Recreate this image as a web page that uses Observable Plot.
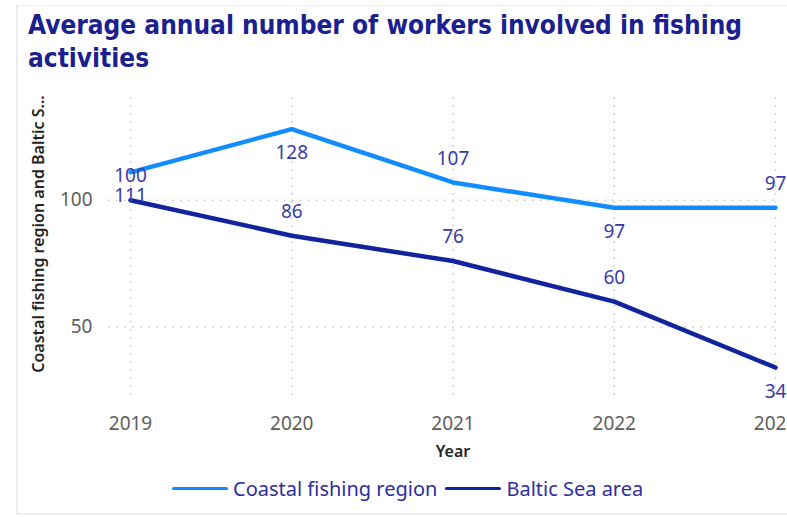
<!DOCTYPE html>
<html><head><meta charset="utf-8">
<script src="https://cdn.jsdelivr.net/npm/d3@7"></script>
<script src="https://cdn.jsdelivr.net/npm/@observablehq/plot@0.6"></script>
<style>
body{margin:0;width:787px;height:517px;overflow:hidden;position:relative;background:#fff;font-family:"Segoe UI","Noto Sans",sans-serif;}
#panel{position:absolute;left:16px;top:5px;width:790px;height:507px;border-left:2px solid #ECECEC;border-top:1px solid #ECECEC;border-bottom:2px solid #ECECEC;}
#title{position:absolute;left:28px;top:9px;font-family:"DejaVu Sans Condensed","DejaVu Sans",sans-serif;font-weight:bold;font-size:26px;line-height:33px;color:#1B1F8F;white-space:nowrap;}
#chart{position:absolute;left:0;top:85px;width:800px;}
#chart svg{max-width:none !important;}
#legend{position:absolute;left:172px;top:475px;display:flex;align-items:center;font-size:20px;color:#2E2E9E;font-family:"Segoe UI","Noto Sans",sans-serif;white-space:nowrap;}
#legend .sw{display:inline-block;width:56px;height:3px;margin-right:5px;border-radius:2px;}
#legend .item{display:flex;align-items:center;margin-right:8px;}
</style></head>
<body>
<div id="panel"></div>
<div id="title">Average annual number of workers involved in fishing<br>activities</div>
<div id="chart"></div>
<div id="legend"></div>
<script>
const years = [2019, 2020, 2021, 2022, 2023];
const seriesNames = ["Coastal fishing region", "Baltic Sea area"];
const coastal = [111, 128, 107, 97, 97];
const baltic = [100, 86, 76, 60, 34];
const yTicks = [50, 100];
const yTitle = "Coastal fishing region and Baltic S...";
const xTitle = "Year";

// label placement (1 = below point, -1 = above point)
const coastalSide = [1, 1, -1, 1, -1];
const balticSide = [-1, -1, -1, -1, 1];
const colors = ["#118DFF", "#12239E"];

const rows = [];
years.forEach((y, i) => {
  rows.push({year: y, value: coastal[i], series: seriesNames[0], side: coastalSide[i]});
  rows.push({year: y, value: baltic[i], series: seriesNames[1], side: balticSide[i]});
});

const labelColor = "#3B3BA9";
const tickColor = "#605E5C";
const gridColor = "#C4C4C4";

const plot = Plot.plot({
  width: 800,
  height: 390,
  marginLeft: 108,
  marginRight: 25,
  marginTop: 12,
  marginBottom: 75,
  style: {fontFamily: '"Segoe UI","Noto Sans",sans-serif', background: "transparent", overflow: "visible", maxWidth: "none"},
  x: {domain: [years[0], years[years.length - 1]], insetLeft: 22},
  y: {domain: [21, 140.5]},
  color: {domain: seriesNames, range: colors},
  marks: [
    Plot.gridX(years, {stroke: gridColor, strokeOpacity: 1, strokeWidth: 1.5, strokeDasharray: "1.5,6.5"}),
    Plot.gridY(yTicks, {stroke: gridColor, strokeOpacity: 1, strokeWidth: 1.5, strokeDasharray: "1.5,6.5"}),
    Plot.axisX(years, {tickSize: 0, tickPadding: 16, fontSize: 19, fill: tickColor, tickFormat: d => String(d), label: null}),
    Plot.axisY(yTicks, {tickSize: 0, tickPadding: 16, fontSize: 19, fill: tickColor, label: null}),
    Plot.text([yTitle], {frameAnchor: "left", textAnchor: "middle", rotate: -90, dx: -70, dy: -15, fontSize: 16, fontWeight: 600, fill: "#252423"}),
    Plot.text([xTitle], {x: [(years[0] + years[years.length - 1]) / 2], frameAnchor: "bottom", dy: 56, fontSize: 16, fontWeight: 600, fill: "#252423"}),
    Plot.line(rows, {x: "year", y: "value", z: "series", stroke: "series", strokeWidth: 4.5, strokeLinejoin: "round", strokeLinecap: "round"}),
    Plot.text(rows.filter(d => d.side > 0), {x: "year", y: "value", text: d => String(d.value), dy: 24, fontSize: 19, fill: labelColor}),
    Plot.text(rows.filter(d => d.side < 0), {x: "year", y: "value", text: d => String(d.value), dy: -24, fontSize: 19, fill: labelColor})
  ]
});
plot.style.maxWidth = "none";
document.getElementById("chart").appendChild(plot);

const legend = document.getElementById("legend");
seriesNames.forEach((name, i) => {
  const item = document.createElement("div");
  item.className = "item";
  const sw = document.createElement("span");
  sw.className = "sw";
  sw.style.background = colors[i];
  const t = document.createElement("span");
  t.textContent = name;
  item.appendChild(sw);
  item.appendChild(t);
  legend.appendChild(item);
});
</script>
</body></html>
